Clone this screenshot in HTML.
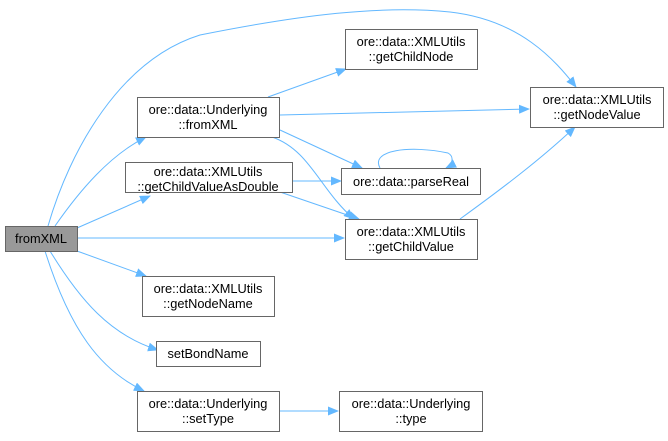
<!DOCTYPE html>
<html><head><style>
body{margin:0;background:#fff;}
svg text{font-family:"Liberation Sans",Arial,sans-serif;font-size:12.8px;fill:#000;text-anchor:middle;}
</style></head><body>
<svg width="668" height="436" viewBox="0 0 668 436" xmlns="http://www.w3.org/2000/svg">
<defs><marker id="a" markerWidth="11" markerHeight="9" refX="10" refY="4.5" orient="auto" markerUnits="userSpaceOnUse"><path d="M0,0 L11,4.5 L0,9 Z" fill="#63b8ff"/></marker></defs>
<g fill="none" stroke="#63b8ff" stroke-width="1" marker-end="url(#a)">
<path d="M48,226 C70,150 120,60 200,35 C300,15 380,5 450,12 C520,20 555,60 576,87"/>
<path d="M55,226 C80,190 110,155 146,137"/>
<path d="M77,228 L150,196"/>
<path d="M77,238 L344,238"/>
<path d="M77,251 L146,276"/>
<path d="M50,251 C80,300 110,335 158,350"/>
<path d="M45,251 C70,330 100,370 144,391"/>
<path d="M268,97 L346,69"/>
<path d="M280,115 L529,109"/>
<path d="M280,130 L362,168"/>
<path d="M272,137 C310,150 320,190 354,219"/>
<path d="M292,181 L341,181"/>
<path d="M280,192 L359,219"/>
<path d="M380,168 C370,150 410,145 448,153 C455,157 452,165 446,168"/>
<path d="M460,219 C500,190 540,160 575,127"/>
<path d="M280,411 L338,411"/>
</g>
<g stroke="#666" stroke-width="1" fill="#fff">
<rect x="5.5" y="226.5" width="72" height="25" fill="#999"/>
<rect x="137.5" y="97.5" width="142" height="40"/>
<rect x="125.5" y="162.5" width="167" height="30"/>
<rect x="142.5" y="276.5" width="132" height="40"/>
<rect x="156.5" y="341.5" width="104" height="25"/>
<rect x="137.5" y="391.5" width="142" height="40"/>
<rect x="339.5" y="391.5" width="143" height="40"/>
<rect x="345.5" y="219.5" width="132" height="40"/>
<rect x="345.5" y="29.5" width="132" height="40"/>
<rect x="341.5" y="168.5" width="139" height="26"/>
<rect x="530.5" y="87.5" width="133" height="40"/>
</g>
<text x="41" y="243">fromXML</text>
<text x="208" y="114">ore::data::Underlying</text><text x="208" y="129">::fromXML</text>
<text x="208" y="176">ore::data::XMLUtils</text><text x="208" y="191">::getChildValueAsDouble</text>
<text x="208" y="293">ore::data::XMLUtils</text><text x="208" y="308">::getNodeName</text>
<text x="208" y="358">setBondName</text>
<text x="208" y="408">ore::data::Underlying</text><text x="208" y="423">::setType</text>
<text x="411" y="408">ore::data::Underlying</text><text x="411" y="423">::type</text>
<text x="411" y="236">ore::data::XMLUtils</text><text x="411" y="251">::getChildValue</text>
<text x="411" y="46">ore::data::XMLUtils</text><text x="411" y="61">::getChildNode</text>
<text x="411" y="186">ore::data::parseReal</text>
<text x="597" y="104">ore::data::XMLUtils</text><text x="597" y="119">::getNodeValue</text>
</svg>
</body></html>
